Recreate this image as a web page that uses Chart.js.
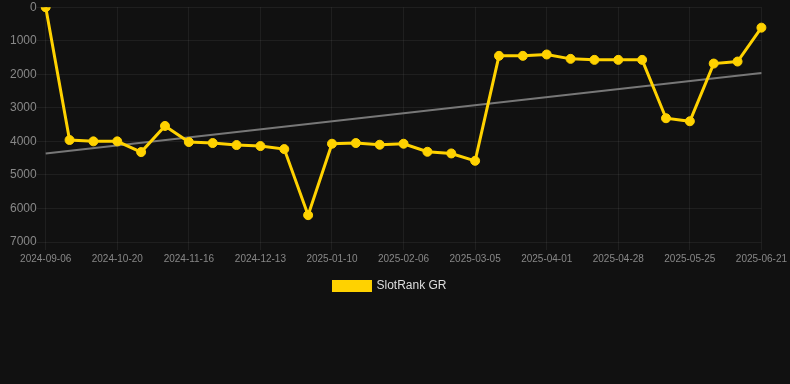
<!DOCTYPE html>
<html>
<head>
<meta charset="utf-8">
<title>SlotRank GR</title>
<script src="https://cdn.jsdelivr.net/npm/chart.js@4/dist/chart.umd.min.js"></script>
<style>
    html, body {
        margin: 0;
        padding: 0;
        background: #111111;
    }
    #wrap {
        position: relative;
        width: 790px;
        height: 302px;
    }
</style>
</head>
<body>
<div id="wrap">
    <canvas id="rankChart"></canvas>
</div>
<script>
// Dates of each rank reading
const dateLabels = [
    '2024-09-06', '2024-10-02', '2024-10-11', '2024-10-20', '2024-10-29', '2024-11-07',
    '2024-11-16', '2024-11-25', '2024-12-04', '2024-12-13', '2024-12-22', '2024-12-31',
    '2025-01-10', '2025-01-19', '2025-01-28', '2025-02-06', '2025-02-15', '2025-02-24',
    '2025-03-05', '2025-03-14', '2025-03-23', '2025-04-01', '2025-04-10', '2025-04-19',
    '2025-04-28', '2025-05-07', '2025-05-16', '2025-05-25', '2025-06-03', '2025-06-12',
    '2025-06-21'
];

// Rank values (lower is better, axis is reversed)
const rankValues = [
    0, 3960, 4000, 4000, 4320, 3540,
    4020, 4050, 4110, 4140, 4230, 6200,
    4070, 4050, 4100, 4070, 4310, 4360,
    4580, 1450, 1450, 1410, 1540, 1570,
    1570, 1570, 3310, 3400, 1680, 1620,
    610
];

// Trend line, start and end value
const trendValues = [4360, 1960];

// Y axis ticks
const yTicks = [0, 1000, 2000, 3000, 4000, 5000, 6000, 7000];

const trendData = [
    { x: dateLabels[0], y: trendValues[0] },
    { x: dateLabels[dateLabels.length - 1], y: trendValues[1] }
];

const gridColor = 'rgba(255, 255, 255, 0.06)';
const fontFamily = 'Liberation Sans, Arial, sans-serif';

// Move the legend box so it is centred on the canvas, not on the padded area
const legendShift = {
    id: 'legendShift',
    afterLayout(chart) {
        chart.legend.left -= 10;
        chart.legend.right -= 10;
    }
};

new Chart(document.getElementById('rankChart'), {
    type: 'line',
    data: {
        labels: dateLabels,
        datasets: [{
            label: 'SlotRank GR',
            data: rankValues,
            borderColor: '#ffd200',
            backgroundColor: '#ffd200',
            borderWidth: 3,
            pointRadius: 4.5,
            pointBorderWidth: 1,
            pointHoverRadius: 4.5,
            tension: 0,
            order: 1
        }, {
            label: 'trend',
            data: trendData,
            borderColor: '#777777',
            borderWidth: 2,
            pointRadius: 0,
            fill: false,
            order: 2
        }]
    },
    plugins: [legendShift],
    options: {
        responsive: true,
        maintainAspectRatio: false,
        animation: false,
        layout: {
            padding: { top: 0, right: 0, left: 10, bottom: 0 }
        },
        plugins: {
            legend: {
                position: 'bottom',
                labels: {
                    color: '#dddddd',
                    font: { family: fontFamily, size: 12 },
                    boxWidth: 37,
                    boxHeight: 9,
                    padding: 12,
                    filter: item => item.text !== 'trend'
                }
            },
            tooltip: { enabled: false }
        },
        scales: {
            x: {
                grid: {
                    // only draw vertical lines under the shown labels
                    color: ctx => (ctx.index % 3 === 0 ? gridColor : 'rgba(0,0,0,0)'),
                    tickLength: 8
                },
                border: { display: false },
                ticks: {
                    color: '#888888',
                    font: { family: fontFamily, size: 10 },
                    autoSkip: false,
                    maxRotation: 0,
                    padding: 3,
                    callback: function(value, index) {
                        return index % 3 === 0 ? this.getLabelForValue(value) : '';
                    }
                }
            },
            y: {
                reverse: true,
                min: 0,
                max: 7000,
                afterBuildTicks: axis => {
                    axis.ticks = yTicks.map(v => ({ value: v }));
                },
                grid: {
                    color: gridColor,
                    tickLength: 9
                },
                border: { display: false },
                ticks: {
                    color: '#888888',
                    font: { family: fontFamily, size: 12 },
                    padding: 0,
                    callback: v => String(v)
                }
            }
        }
    }
});
</script>
</body>
</html>
